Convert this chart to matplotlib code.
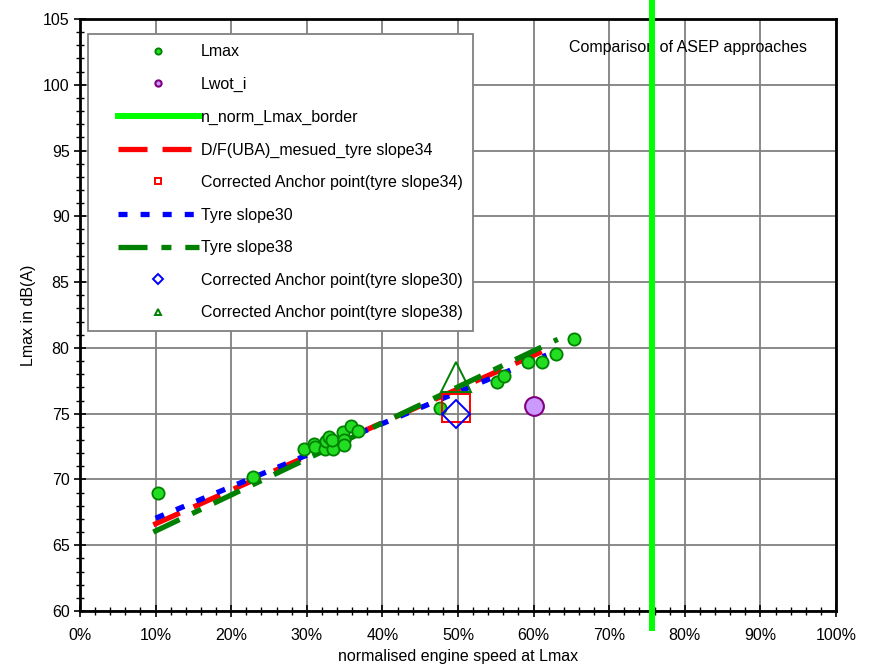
import matplotlib
matplotlib.use("Agg")
import matplotlib.pyplot as plt
import numpy as np
from matplotlib.ticker import MultipleLocator, PercentFormatter

plt.rcParams['font.family'] = ['Liberation Sans', 'DejaVu Sans']
plt.rcParams['lines.scale_dashes'] = False

# ---- data ----
lmax_x = [10.3, 22.9, 29.6, 30.9, 31.1, 32.4, 32.6, 33.0, 33.5, 33.3, 34.8, 34.9, 34.9,
          35.9, 36.8, 47.6, 55.2, 56.1, 59.2, 61.1, 63.0, 65.3]
lmax_y = [69.0, 70.2, 72.3, 72.7, 72.5, 72.3, 72.9, 73.2, 72.3, 73.0, 73.6, 73.0, 72.6,
          74.1, 73.7, 75.4, 77.4, 77.9, 78.9, 78.9, 79.5, 80.7]
lwot_x = [60.05]
lwot_y = [75.6]
border_x = [75.7, 75.7]
border_y = [58.7, 106.2]
slope34_x = [9.7, 62.2]
slope34_y = [66.55, 80.0]
slope30_x = [10.0, 61.7]
slope30_y = [67.05, 79.45]
slope38_x = [9.7, 63.2]
slope38_y = [66.0, 80.65]
anchor34_x, anchor34_y = [49.7], [75.4]
anchor30_x, anchor30_y = [49.7], [75.0]
anchor38_x, anchor38_y = [49.7], [77.8]

labels = ["Lmax", "Lwot_i", "n_norm_Lmax_border", "D/F(UBA)_mesued_tyre slope34",
          "Corrected Anchor point(tyre slope34)", "Tyre slope30", "Tyre slope38",
          "Corrected Anchor point(tyre slope30)", "Corrected Anchor point(tyre slope38)"]
title_text = "Comparison of ASEP approaches"
xlabel = "normalised engine speed at Lmax"
ylabel = "Lmax in dB(A)"

FS = 11.5
fig = plt.figure(figsize=(8.69, 6.66), dpi=100)
ax = fig.add_axes([80/869, 55/666, 756/869, 592/666])

ax.set_xlim(0, 100)
ax.set_ylim(60, 105)

red = '#ff0000'; blue = '#0000ff'; dgreen = '#008000'; lime = '#00ff00'

h_red, = ax.plot(slope34_x, slope34_y, color=red, lw=3.8, dashes=(20.9, 10.8), zorder=3)
h_blue, = ax.plot(slope30_x, slope30_y, color=blue, lw=3.8, dashes=(6.5, 9.4), zorder=3)
h_green, = ax.plot(slope38_x, slope38_y, color=dgreen, lw=3.8, dashes=(20.9, 10, 7.2, 10), zorder=3)

h_lmax, = ax.plot(lmax_x, lmax_y, ls='none', marker='o', ms=8.8, mfc='#22dd22', mec=dgreen, mew=1.3, zorder=4)
h_lwot, = ax.plot(lwot_x, lwot_y, ls='none', marker='o', ms=13.5, mfc='#cc99ff', mec='#800080', mew=1.5, zorder=5)

h_sq, = ax.plot(anchor34_x, anchor34_y, ls='none', marker='s', ms=20, mfc='none', mec=red, mew=1.4, zorder=5)
h_dia, = ax.plot(anchor30_x, anchor30_y, ls='none', marker='D', ms=14.5, mfc='none', mec=blue, mew=1.4, zorder=5)
h_tri, = ax.plot(anchor38_x, anchor38_y, ls='none', marker='^', ms=21, mfc='none', mec=dgreen, mew=1.4, zorder=5)

h_border, = ax.plot(border_x, border_y, color=lime, lw=4.3, zorder=6, clip_on=False)

ax.text(0.6468, 0.9527, title_text, transform=ax.transAxes, fontsize=FS, ha='left', va='center', zorder=2)

# ticks / grid
ax.xaxis.set_major_locator(MultipleLocator(10))
ax.xaxis.set_minor_locator(MultipleLocator(2))
ax.yaxis.set_major_locator(MultipleLocator(5))
ax.yaxis.set_minor_locator(MultipleLocator(1))
ax.xaxis.set_major_formatter(PercentFormatter(xmax=100, decimals=0))
ax.tick_params(which='major', direction='inout', length=9, width=1.2, labelsize=FS, color='black')
ax.tick_params(which='minor', direction='inout', length=6, width=1.0, color='black')
ax.tick_params(axis='x', which='major', pad=8)
ax.tick_params(axis='y', which='major', pad=3)
ax.grid(True, which='major', color='#808080', lw=1.3)
ax.set_axisbelow(True)
for s in ax.spines.values():
    s.set_color('black')
    s.set_linewidth(2)

ax.set_xlabel(xlabel, fontsize=FS, labelpad=4)
ax.set_ylabel(ylabel, fontsize=FS, labelpad=5)

handles = [h_lmax, h_lwot, h_border, h_red, h_sq, h_blue, h_green, h_dia, h_tri]
leg = ax.legend(handles, labels, loc='upper left', bbox_to_anchor=(8/756, 1 - 15/592),
                borderaxespad=0, fontsize=FS, handlelength=6.3, handletextpad=0.1,
                labelspacing=1.1, borderpad=0.65, numpoints=1, fancybox=False,
                framealpha=1, edgecolor='#808080')
leg.get_frame().set_linewidth(1.3)
leg.set_zorder(10)
msizes = {0: 4.5, 1: 4.5, 4: 4.5, 7: 5.0, 8: 5.0}
for i, lh in enumerate(leg.legend_handles):
    xd = np.asarray(lh.get_xdata(), dtype=float)
    if i in msizes:
        lh.set_markersize(msizes[i])
        lh.set_xdata(xd + 6.8)
    else:
        xd = xd.copy()
        xd[0] += 14.0
        lh.set_xdata(xd)

fig.savefig("out.png", dpi=100)
